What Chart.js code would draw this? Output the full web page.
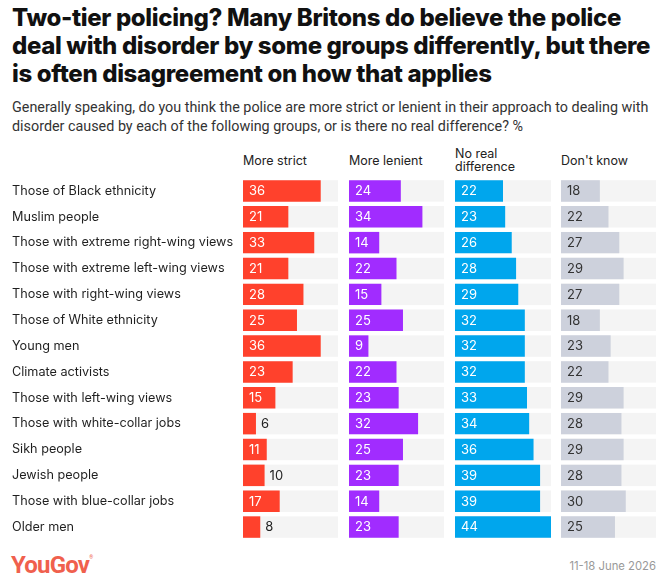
<!DOCTYPE html>
<html>
<head>
<meta charset="utf-8">
<script src="https://cdn.jsdelivr.net/npm/chart.js@4.4.1/dist/chart.umd.min.js"></script>
<style>
  html, body { margin: 0; padding: 0; background: #fff; }
  body { width: 666px; height: 588px; position: relative; overflow: hidden; font-family: Inter, "Noto Sans", sans-serif; color: #1a1a1a; }
  .title { position: absolute; left: 12px; top: 4px; width: 654px; font-family: Inter, sans-serif; font-weight: 800; font-size: 24px; line-height: 28px; letter-spacing: -0.35px; color: #111; white-space: nowrap; }
  .subtitle { position: absolute; left: 12px; top: 98px; width: 654px; font-family: Roboto, sans-serif; font-size: 14.35px; line-height: 19px; color: #333; white-space: nowrap; }
  .head { position: absolute; font-size: 12.5px; line-height: 13px; color: #222; }
  .panel { position: absolute; top: 178px; height: 362px; }
  .logo { position: absolute; left: 11px; top: 551px; font-family: Roboto, sans-serif; font-weight: 700; font-size: 24px; letter-spacing: -0.8px; color: #f0604d; }
  .logo sup { font-size: 5px; letter-spacing: 0; vertical-align: 14px; }
  .date { position: absolute; right: 10px; top: 559px; font-size: 11.3px; color: #999; }
</style>
</head>
<body>
<div class="title">Two-tier policing? Many Britons do believe the police<br>deal with disorder by some groups differently, but there<br>is often disagreement on how that applies</div>
<div class="subtitle">Generally speaking, do you think the police are more strict or lenient in their approach to dealing with<br>disorder caused by each of the following groups, or is there no real difference? %</div>

<div class="head" style="left:243px; top:154px;">More strict</div>
<div class="head" style="left:349px; top:154px;">More lenient</div>
<div class="head" style="left:455px; top:147px;">No real<br>difference</div>
<div class="head" style="left:561px; top:154px;">Don't know</div>

<div class="panel" style="left:12px; width:326px;"><canvas id="c0"></canvas></div>
<div class="panel" style="left:349px; width:95px;"><canvas id="c1"></canvas></div>
<div class="panel" style="left:455px; width:96px;"><canvas id="c2"></canvas></div>
<div class="panel" style="left:561px; width:95px;"><canvas id="c3"></canvas></div>

<div class="logo">YouGov<sup>®</sup></div>
<div class="date">11-18 June 2026</div>

<script>
// Groups asked about, top to bottom
const groups = [
    'Those of Black ethnicity',
    'Muslim people',
    'Those with extreme right-wing views',
    'Those with extreme left-wing views',
    'Those with right-wing views',
    'Those of White ethnicity',
    'Young men',
    'Climate activists',
    'Those with left-wing views',
    'Those with white-collar jobs',
    'Sikh people',
    'Jewish people',
    'Those with blue-collar jobs',
    'Older men'
];

const moreStrict    = [36, 21, 33, 21, 28, 25, 36, 23, 15, 6, 11, 10, 17, 8];
const moreLenient   = [24, 34, 14, 22, 15, 25, 9, 22, 23, 32, 25, 23, 14, 23];
const noDifference  = [22, 23, 26, 28, 29, 32, 32, 32, 33, 34, 36, 39, 39, 44];
const dontKnow      = [18, 22, 27, 29, 27, 18, 23, 22, 29, 28, 29, 28, 30, 25];

const scaleMax = 44;

const colors = {
    strict: '#ff412c',
    lenient: '#a12cff',
    same: '#00a6ed',
    unsure: '#cdd1dc',
    track: '#f4f4f4',
    label: '#1f1f1f'
};

const fontFamily = 'Inter, "Noto Sans", sans-serif';

// Grey track behind every bar, spanning the whole panel
const trackPlugin = {
    id: 'track',
    beforeDatasetsDraw(chart) {
        const ctx = chart.ctx;
        const area = chart.chartArea;
        const meta = chart.getDatasetMeta(0);
        ctx.save();
        ctx.fillStyle = colors.track;
        meta.data.forEach(bar => {
            ctx.fillRect(area.left, bar.y - bar.height / 2, area.right - area.left, bar.height);
        });
        ctx.restore();
    }
};

// Value labels: inside the bar when they fit, just outside otherwise
const valuePlugin = {
    id: 'values',
    afterDatasetsDraw(chart, args, opts) {
        const ctx = chart.ctx;
        const meta = chart.getDatasetMeta(0);
        const data = chart.data.datasets[0].data;
        ctx.save();
        ctx.font = '13px ' + fontFamily;
        ctx.textBaseline = 'middle';
        ctx.textAlign = 'left';
        meta.data.forEach((bar, i) => {
            const text = String(data[i]);
            const w = ctx.measureText(text).width;
            const barW = bar.x - bar.base;
            if (w + 11 <= barW) {
                ctx.fillStyle = opts.inside;
                ctx.fillText(text, bar.base + 6, bar.y + 0.5);
            } else {
                ctx.fillStyle = '#222';
                ctx.fillText(text, bar.x + 5, bar.y + 0.5);
            }
        });
        ctx.restore();
    }
};

function makePanel(id, values, color, inside, showLabels) {
    const ctx = document.getElementById(id).getContext('2d');
    return new Chart(ctx, {
        type: 'bar',
        data: {
            labels: groups,
            datasets: [{
                data: values,
                backgroundColor: color,
                borderWidth: 0,
                barPercentage: 0.83,
                categoryPercentage: 1
            }]
        },
        options: {
            indexAxis: 'y',
            responsive: true,
            maintainAspectRatio: false,
            animation: false,
            events: [],
            layout: { padding: 0 },
            plugins: {
                legend: { display: false },
                tooltip: { enabled: false },
                values: { inside: inside }
            },
            scales: {
                x: {
                    display: false,
                    min: 0,
                    max: scaleMax
                },
                y: {
                    display: showLabels,
                    grid: { display: false },
                    border: { display: false },
                    ticks: {
                        crossAlign: 'far',
                        color: colors.label,
                        padding: 0,
                        font: { family: fontFamily, size: 12.65 }
                    },
                    afterFit(scale) {
                        if (!showLabels) return;
                        scale.width = 231;
                        scale.paddingTop = 0;
                        scale.paddingBottom = 0;
                    }
                }
            }
        },
        plugins: [trackPlugin, valuePlugin]
    });
}

makePanel('c0', moreStrict, colors.strict, '#fff', true);
makePanel('c1', moreLenient, colors.lenient, '#fff', false);
makePanel('c2', noDifference, colors.same, '#fff', false);
makePanel('c3', dontKnow, colors.unsure, '#333', false);
</script>
</body>
</html>
